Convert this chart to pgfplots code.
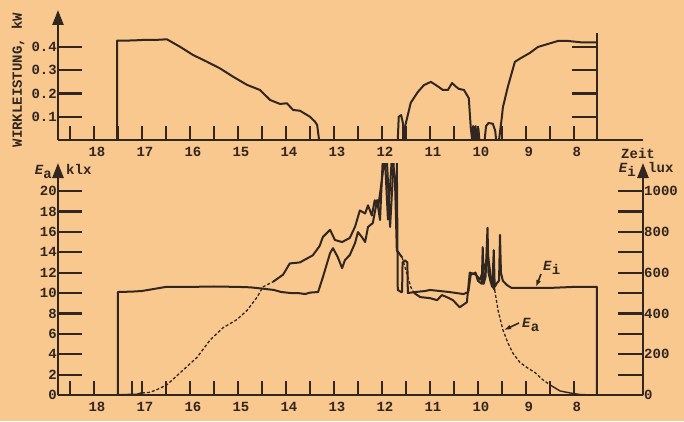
\documentclass[border=0pt]{standalone}
\usepackage{fontspec}
\setmainfont{Liberation Mono}
\usepackage{pgfplots}
\pgfplotsset{compat=1.18}
\usetikzlibrary{arrows.meta}
\definecolor{paper}{RGB}{248,200,142}
\definecolor{ink}{RGB}{50,38,32}
\newcommand{\lbl}{\fontsize{14}{14}\selectfont\bfseries}
\pgfplotsset{
  common/.style={scale only axis, width=585pt, x dir=reverse, xmin=6.56, xmax=18.75,
    axis line style={ink, line width=2.4pt}, tick style={ink, line width=2.2pt},
    every minor tick/.append style={ink, line width=2.2pt},
    tick align=inside, ticklabel style={font=\lbl, text=ink},
    cycle list={{ink, mark=none, line width=2pt, line join=round}},
    every axis plot/.append style={ink, mark=none, line width=2pt, line join=round}},
  dseg/.style={line width=1.3pt, dash pattern=on 3pt off 2pt},
  xticks/.style={axis y line=none, axis x line*=bottom,
    xtick={8,8.5,...,18.5},
    xticklabels={8,,9,,10,,11,,12,,13,,14,,15,,16,,17,,18,},
    major tick length=14pt, xticklabel style={xshift=3pt, yshift=-4pt}},
  yarrow/.style={y axis line style={-{Triangle[width=11pt,length=15pt]}}},
}
\begin{document}
\begin{tikzpicture}
\useasboundingbox (0,0) rectangle (684pt,421pt);
\fill[paper] (0,0) rectangle (684pt,421pt);

% ---------- lower plot: Ea (klx), left axis ----------
\begin{axis}[common, at={(58pt,26pt)}, anchor=south west, height=232pt,
  ymin=0, ymax=22.75, axis x line*=bottom, axis y line*=left, yarrow,
  xtick=\empty, ytick={0,2,...,20},
  yticklabels={0,2,4,6,8,10,12,14,16,18,20},
  major tick length=24pt, yticklabel style={inner xsep=1pt}]
\addplot coordinates {(18.75,0) (17.5,0) (17.1,0.05) (17.0,0.2)};
\addplot[dseg] coordinates {(17.0,0.2) (16.85,0.25) (16.7,0.5) (16.48,1.0) (16.2,2.2)
 (15.85,3.7) (15.58,5.4) (15.31,6.6) (15.02,7.4) (14.81,8.3) (14.6,9.6) (14.48,10.6) (14.27,11.1)};
\addplot coordinates {(14.27,11.1) (14.06,11.8) (13.92,12.9) (13.71,13.0) (13.44,13.7)
 (13.3,14.6) (13.23,15.5) (13.08,16.2) (12.98,15.2) (12.83,15.0) (12.67,15.4) (12.56,16.5)
 (12.46,18.1) (12.35,17.8) (12.29,18.6) (12.21,17.6) (12.15,19.1) (12.08,18.4) (12.0,21.1)
 (11.94,23.5) (11.875,17.2) (11.79,23.5) (11.73,21.4) (11.69,14.2) (11.58,13.5)};
\addplot[dseg] coordinates {(11.58,13.5) (11.46,11.6) (11.4,10.6) (11.33,10.0)};
\addplot coordinates {(11.33,10.0) (11.2,9.6) (11.0,9.5) (10.85,9.3) (10.75,9.8) (10.65,9.6)
 (10.52,9.3) (10.38,8.6) (10.23,9.1) (10.17,12.0) (10.04,11.8) (9.96,11.3) (9.88,12.3)
 (9.79,13.7) (9.71,10.8) (9.65,10.3)};
\addplot[dseg] coordinates {(9.65,10.3) (9.58,8.3) (9.48,6.4) (9.375,5.1) (9.27,4.1)
 (9.125,3.2) (8.98,2.7) (8.81,2.2) (8.65,1.5) (8.5,1.0)};
\addplot[line width=1.4pt] coordinates {(8.5,1.0) (8.29,0.4) (8.08,0.2) (7.875,0.05) (7.6,0)};
\end{axis}

% ---------- lower plot: Ei (lux), right axis ----------
\begin{axis}[common, at={(58pt,26pt)}, anchor=south west, height=232pt,
  ymin=0, ymax=1137.5, axis x line=none, axis y line*=right, yarrow,
  ytick={0,200,...,1000}, yticklabels={0,200,400,600,800,1000},
  minor ytick={100,300,...,900}, major tick length=25pt, minor tick length=25pt,
  yticklabel style={inner xsep=1pt}]
\addplot coordinates {(18.75,0) (17.5,0) (17.5,505) (17.2,507) (17.0,510) (16.75,520)
 (16.5,530) (16.0,530) (15.5,532) (15.0,530) (14.75,528) (14.5,522) (14.25,515) (14.1,505)
 (13.9,500) (13.75,500) (13.6,495) (13.5,502) (13.33,505) (13.23,578) (13.08,696) (13.02,720)
 (12.92,676) (12.83,622) (12.77,662) (12.67,686) (12.56,745) (12.5,799) (12.42,775) (12.35,750)
 (12.29,824) (12.19,843) (12.1,956) (12.04,858) (11.98,1170) (11.9,1170) (11.83,824)
 (11.75,1170) (11.69,1170) (11.67,515) (11.6,505) (11.58,505) (11.57,650) (11.52,660)
 (11.47,650) (11.46,500) (11.3,505) (11.1,510) (11.0,515) (10.8,510) (10.6,505) (10.45,500)
 (10.3,495) (10.2,505) (10.15,590) (10.05,600) (10.0,560) (9.92,545) (9.9,725) (9.88,545)
 (9.84,580) (9.8,820) (9.78,600) (9.74,560) (9.7,530) (9.67,710) (9.65,530) (9.6,550)
 (9.56,560) (9.54,785) (9.52,600) (9.48,560) (9.4,540) (9.3,525) (9.0,525) (8.5,525)
 (8.0,530) (7.52,530) (7.52,0) (6.56,0)};
\end{axis}

% ---------- lower plot: time ticks ----------
\begin{axis}[common, xticks, at={(58pt,26pt)}, anchor=south west, height=232pt,
  ymin=0, ymax=22.75, extra x ticks={17.2}, extra x tick labels={}]
\end{axis}

% ---------- upper plot: power ----------
\begin{axis}[common, at={(58pt,281pt)}, anchor=south west, height=130pt,
  ymin=0, ymax=0.559, axis x line*=bottom, axis y line*=left, yarrow,
  xtick=\empty, ytick={0.1,0.2,0.3,0.4}, yticklabels={0.1,0.2,0.3,0.4},
  major tick length=24pt, yticklabel style={inner xsep=1pt}]
\addplot coordinates {(17.52,0) (17.52,0.427) (17.2,0.428) (17.0,0.430) (16.75,0.430)
 (16.48,0.433) (16.2,0.40) (15.94,0.366) (15.65,0.337) (15.375,0.308) (15.1,0.272)
 (14.81,0.237) (14.54,0.215) (14.33,0.172) (14.125,0.155) (13.98,0.158) (13.85,0.129)
 (13.71,0.126) (13.5,0.10) (13.4,0.08) (13.35,0.065) (13.31,0)};
\addplot coordinates {(11.67,0) (11.65,0.1) (11.6,0.107) (11.56,0.07) (11.56,0)};
\addplot coordinates {(11.52,0) (11.52,0.056) (11.4,0.16) (11.25,0.207) (11.125,0.236)
 (10.98,0.25) (10.83,0.23) (10.73,0.215) (10.625,0.215) (10.54,0.245) (10.46,0.23)
 (10.4,0.22) (10.29,0.215) (10.19,0.18) (10.15,0.056) (10.12,0) (10.1,0.06) (10.07,0)
 (10.05,0.06) (10.02,0) (9.99,0.05) (9.97,0)};
\addplot coordinates {(9.86,0) (9.83,0.06) (9.78,0.073) (9.69,0.07) (9.64,0.04) (9.62,0)};
\addplot coordinates {(9.56,0) (9.5,0.1) (9.48,0.14) (9.375,0.23) (9.23,0.336) (9.1,0.353)
 (8.92,0.374) (8.75,0.40) (8.54,0.413) (8.33,0.426) (8.125,0.426) (7.85,0.42) (7.52,0.42)};
\draw[ink, line width=2.4pt] (axis cs:7.52,0) -- (axis cs:7.52,0.46);
\draw[ink, line width=2.2pt] (axis cs:7.52,0.1) -- ([xshift=-25pt]axis cs:7.52,0.1);
\draw[ink, line width=2.2pt] (axis cs:7.52,0.2) -- ([xshift=-25pt]axis cs:7.52,0.2);
\draw[ink, line width=2.2pt] (axis cs:7.52,0.3) -- ([xshift=-25pt]axis cs:7.52,0.3);
\draw[ink, line width=2.2pt] (axis cs:7.52,0.4) -- ([xshift=-25pt]axis cs:7.52,0.4);
\end{axis}

% ---------- upper plot: time ticks ----------
\begin{axis}[common, xticks, at={(58pt,281pt)}, anchor=south west, height=130pt,
  ymin=0, ymax=0.559]
\end{axis}

% ---------- texts ----------
\begin{scope}[every node/.style={font=\lbl, text=ink, inner sep=0pt}]
\node[rotate=90] at (18pt,341pt) {WIRKLEISTUNG, kW};
\node[anchor=base] at (638pt,263pt) {Zeit};
\node[anchor=base east] at (52pt,247pt) {\textit{E}\raisebox{-4pt}{a}};
\node[anchor=base west] at (66pt,247pt) {klx};
\node[anchor=base east] at (636pt,249pt) {\textit{E}\raisebox{-4pt}{i}};
\node[anchor=base west] at (648pt,249pt) {lux};
\node[anchor=base west] at (543pt,151pt) {\textit{E}\raisebox{-4pt}{i}};
\node[anchor=base west] at (522pt,94pt) {\textit{E}\raisebox{-4pt}{a}};
\end{scope}
\draw[ink, line width=1.6pt, -{Latex[length=7pt,width=5pt]}] (541pt,147pt) -- (536pt,134pt);
\draw[ink, line width=1.6pt, -{Latex[length=7pt,width=5pt]}] (519pt,98pt) -- (504pt,91pt);
\end{tikzpicture}
\end{document}
